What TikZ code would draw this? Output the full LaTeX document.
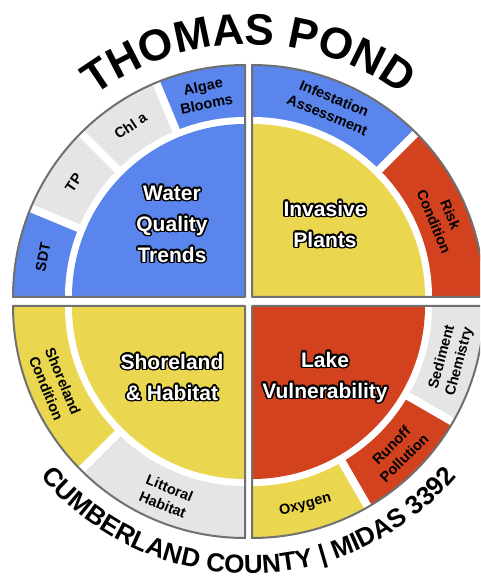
\documentclass[tikz,border=0pt]{standalone}
\usepackage{fontspec}
\setmainfont{Liberation Sans}
\usepackage{contour}
\usetikzlibrary{decorations.text}

\definecolor{wqblue}{RGB}{90,133,236}
\definecolor{ipyellow}{RGB}{234,215,79}
\definecolor{lvred}{RGB}{210,66,30}
\definecolor{segray}{RGB}{229,229,229}
\definecolor{rimgray}{RGB}{112,112,112}

\contourlength{1.6pt}
\newcommand{\pondfont}{\bfseries\fontsize{44}{44}\selectfont}
\newcommand{\countyfont}{\bfseries\fontsize{26}{26}\selectfont}

\tikzset{
  rim/.style={draw=rimgray, line width=2pt, line join=round},
  gap/.style={white, line width=8pt},
  seglabel/.style={font=\bfseries\fontsize{14.5}{18}\selectfont, align=center, inner sep=0pt},
  mainlabel/.style={font=\bfseries\fontsize{21}{31}\selectfont, align=center, text=white},
}

\begin{document}
\begin{tikzpicture}[x=1pt,y=1pt]
\useasboundingbox (-248.5,-276.5) rectangle (231.5,301.5);
\fill[white] (-248.5,-276.5) rectangle (231.5,301.5);
\clip (-248.5,-276.5) rectangle (231.5,301.5);

% water quality trends
\begin{scope}[shift={(-3.5,4.5)}]
  \foreach \a/\b/\c in {180/157.5/wqblue,157.5/135/segray,135/112.5/segray,112.5/90/wqblue}
    \fill[\c] (0,0) -- (\a:232pt) arc[start angle=\a,end angle=\b,radius=232pt] -- cycle;
  \foreach \a in {157.5,135,112.5}
    \draw[gap] (0,0) -- (\a:232pt);
  \fill[white] (0,0) -- (180:180pt) arc[start angle=180,end angle=90,radius=180pt] -- cycle;
  \fill[wqblue] (0,0) -- (180:173pt) arc[start angle=180,end angle=90,radius=173pt] -- cycle;
  \draw[rim] (0,0) -- (180:232pt) arc[start angle=180,end angle=90,radius=232pt] -- cycle;
  \node[seglabel,rotate=78.75] (sdt) at (168.75:206pt) {SDT};
  \node[seglabel,rotate=56.25] (tp) at (146.25:206pt) {TP};
  \node[seglabel,rotate=33.75] (chla) at (123.75:206pt) {Chl a};
  \node[seglabel,rotate=11.25] (algae) at (101.25:206pt) {Algae\\Blooms};
  \node[mainlabel] (wqt) at (-73,72) {\contour{black}{Water}\\\contour{black}{Quality}\\\contour{black}{Trends}};
\end{scope}

% invasive plants
\begin{scope}[shift={(3.5,4.5)}]
  \foreach \a/\b/\c in {0/45/lvred,45/90/wqblue}
    \fill[\c] (0,0) -- (\a:232pt) arc[start angle=\a,end angle=\b,radius=232pt] -- cycle;
  \draw[gap] (0,0) -- (45:232pt);
  \fill[white] (0,0) -- (0:180pt) arc[start angle=0,end angle=90,radius=180pt] -- cycle;
  \fill[ipyellow] (0,0) -- (0:173pt) arc[start angle=0,end angle=90,radius=173pt] -- cycle;
  \draw[rim] (0,0) -- (0:232pt) arc[start angle=0,end angle=90,radius=232pt] -- cycle;
  \node[seglabel,rotate=-22.5] (infest) at (67.5:206pt) {Infestation\\Assessment};
  \node[seglabel,rotate=-67.5] (risk) at (22.5:206pt) {Risk\\Condition};
  \node[mainlabel] (ip) at (73,72) {\contour{black}{Invasive}\\\contour{black}{Plants}};
\end{scope}

% shoreland and habitat
\begin{scope}[shift={(-3.5,-4.5)}]
  \foreach \a/\b/\c in {180/225/ipyellow,225/270/segray}
    \fill[\c] (0,0) -- (\a:232pt) arc[start angle=\a,end angle=\b,radius=232pt] -- cycle;
  \draw[gap] (0,0) -- (225:232pt);
  \fill[white] (0,0) -- (180:180pt) arc[start angle=180,end angle=270,radius=180pt] -- cycle;
  \fill[ipyellow] (0,0) -- (180:173pt) arc[start angle=180,end angle=270,radius=173pt] -- cycle;
  \draw[rim] (0,0) -- (180:232pt) arc[start angle=180,end angle=270,radius=232pt] -- cycle;
  \node[seglabel,rotate=-67.5] (shore) at (202.5:206pt) {Shoreland\\Condition};
  \node[seglabel,rotate=-22.5] (littoral) at (247.5:206pt) {Littoral\\Habitat};
  \node[mainlabel] (sh) at (-73,-72) {\contour{black}{Shoreland}\\\contour{black}{\& Habitat}};
\end{scope}

% lake vulnerability
\begin{scope}[shift={(3.5,-4.5)}]
  \foreach \a/\b/\c in {270/300/ipyellow,300/330/lvred,330/360/segray}
    \fill[\c] (0,0) -- (\a:232pt) arc[start angle=\a,end angle=\b,radius=232pt] -- cycle;
  \foreach \a in {300,330}
    \draw[gap] (0,0) -- (\a:232pt);
  \fill[white] (0,0) -- (270:180pt) arc[start angle=270,end angle=360,radius=180pt] -- cycle;
  \fill[lvred] (0,0) -- (270:173pt) arc[start angle=270,end angle=360,radius=173pt] -- cycle;
  \draw[rim] (0,0) -- (270:232pt) arc[start angle=270,end angle=360,radius=232pt] -- cycle;
  \node[seglabel,rotate=75] (sediment) at (345:206pt) {Sediment\\Chemistry};
  \node[seglabel,rotate=45] (runoff) at (315:206pt) {Runoff\\Pollution};
  \node[seglabel,rotate=15] (oxygen) at (285:206pt) {Oxygen};
  \node[mainlabel] (lv) at (73,-72) {\contour{black}{Lake}\\\contour{black}{Vulnerability}};
\end{scope}

% curved titles
\path[decorate, decoration={text along path, text align=center,
  text={|\pondfont|THOMAS POND}}]
  (150:257pt) arc[start angle=150,end angle=30,radius=257pt];
\path[decorate, decoration={text along path, text align=center,
  text format delimiters={[}{]},
  text={[\countyfont]CUMBERLAND COUNTY | MIDAS 3392}}]
  (200:272pt) arc[start angle=200,end angle=340,radius=272pt];
\end{tikzpicture}
\end{document}
